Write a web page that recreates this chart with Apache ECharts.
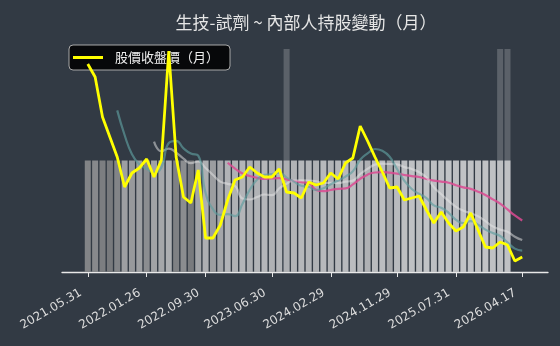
<!DOCTYPE html>
<html><head><meta charset="utf-8">
<script src="https://cdn.jsdelivr.net/npm/echarts@6/dist/echarts.min.js"></script>
<style>html,body{margin:0;padding:0;background:#323a44;}#c{width:560px;height:346px;}</style>
</head><body><div id="c"></div>
<script>
const categories = ['2021.05.31','2021.06.30','2021.07.30','2021.08.31','2021.09.30','2021.10.29','2021.11.30','2021.12.30',
 '2022.01.26','2022.02.25','2022.03.31','2022.04.29','2022.05.31','2022.06.30','2022.07.29','2022.08.31','2022.09.30','2022.10.31','2022.11.30','2022.12.30',
 '2023.01.31','2023.02.24','2023.03.31','2023.04.28','2023.05.31','2023.06.30','2023.07.31','2023.08.31','2023.09.28','2023.10.31','2023.11.30','2023.12.29',
 '2024.01.31','2024.02.29','2024.03.29','2024.04.30','2024.05.31','2024.06.28','2024.07.31','2024.08.30','2024.09.30','2024.10.30','2024.11.29','2024.12.31',
 '2025.01.22','2025.02.27','2025.03.31','2025.04.30','2025.05.30','2025.06.30','2025.07.31','2025.08.29','2025.09.30','2025.10.31','2025.11.28','2025.12.31',
 '2026.01.30','2026.02.26','2026.03.31','2026.04.17'];
const tickLabels = ['2021.05.31','2022.01.26','2022.09.30','2023.06.30','2024.02.29','2024.11.29','2025.07.31','2026.04.17'];
const closePrice = [62.0,58.75,48.75,43.75,38.75,31.25,34.75,36.0,38.25,33.75,
 38.0,65.25,38.75,28.75,27.25,35.5,18.5,18.5,21.75,28.0,
 33.0,33.75,36.25,34.75,33.75,33.75,35.75,30.0,29.75,28.5,
 32.5,31.75,32.25,34.75,33.25,37.25,38.5,46.5,42.75,38.75,
 35.0,31.0,31.25,28.0,28.5,29.0,25.5,22.25,25.0,22.25,
 20.25,21.25,24.75,20.5,16.25,16.0,17.5,16.75,12.75,13.75];
const ma5 = [null,null,null,null,
 50.4,44.25,39.45,36.9,35.8,34.8,36.15,42.25,42.8,40.9,
 39.6,39.1,29.75,25.7,24.3,24.45,23.95,27.0,30.55,33.15,
 34.3,34.45,34.85,33.6,32.6,31.55,31.3,30.5,30.95,31.95,
 32.9,33.85,35.2,38.05,39.65,40.75,40.3,38.8,35.75,32.8,
 30.75,29.55,28.45,26.65,26.05,24.8,23.05,22.2,22.7,21.8,
 20.6,19.75,19.0,17.4,15.85,15.35];
const ma10 = [null,null,null,null,null,null,null,null,null,
 42.6,40.2,40.85,39.85,38.35,37.2,37.63,36.0,34.25,32.6,
 32.03,31.53,28.38,28.13,28.73,29.38,29.2,30.93,32.08,32.88,
 32.93,32.88,32.68,32.28,32.28,32.23,32.58,32.85,34.5,35.8,
 36.83,37.08,37.0,36.9,36.23,35.75,34.93,33.63,31.2,29.43,
 27.78,26.3,25.33,24.68,23.93,22.7,21.4,20.6,20.05,18.83,17.98];
const ma20 = [null,null,null,null,null,null,null,null,null,null,null,null,null,null,null,null,null,null,null,
 37.31,35.86,34.61,33.99,33.54,33.29,33.41,33.46,33.16,32.74,
 32.48,32.2,30.53,30.2,30.5,30.8,30.89,31.89,33.29,34.34,
 34.88,34.98,34.84,34.59,34.25,33.99,33.75,33.24,32.85,32.61,
 32.3,31.69,31.16,30.79,30.08,29.23,28.16,27.11,25.63,24.13,22.88];
const holdingPct = [23.25,24.5,21.75,20.75,23.25,30,28.5,30,25.5,31,
 32,34,22.5,25.5,21,31.5,34,29.5,31.75,35,
 34.5,35.5,34,35,36,34.5,35.5,34,35,36,
 35.5,34.5,36.5,35,36,36.5,37.5,36,34.5,37,
 37.5,32.5,37,38,38.5,37.5,39,38,38.5,39,
 38,39,38.5,38,39,38.5,38,38.5];
const eventMonths = ['2023.08.31','2026.01.30','2026.02.26'];

const PAD = 3;
const padL = Array.from({length: PAD}, (_, i) => 'padL' + i);
const padR = Array.from({length: PAD}, (_, i) => 'padR' + i);
const xData = padL.concat(categories, padR);
const fit = arr => { const out = new Array(PAD).fill(null).concat(arr); while (out.length < xData.length) out.push(null); return out; };
const grayOf = pct => { const g = Math.round(120 + (pct - 20) * 4); return `rgb(${g-3},${g-1},${g+2})`; };
const holdingBars = holdingPct.map(p => ({ value: 1, itemStyle: { color: grayOf(p) } }));
const eventBars = categories.map(c => eventMonths.includes(c) ? 2 : null);
const showTick = (i, v) => tickLabels.includes(v);

const chart = echarts.init(document.getElementById('c'), null, {renderer: 'canvas'});
chart.setOption({
  backgroundColor: '#323a44',
  animation: false,
  title: {
    text: '生技-試劑 ~ 內部人持股變動（月）',
    left: 301, top: 9, textAlign: 'center',
    textStyle: { color: '#e6e6e6', fontSize: 17, fontWeight: 'normal', fontFamily: 'Noto Sans CJK TC' }
  },
  legend: {
    data: [{ name: '股價收盤價（月）', icon: 'rect' }],
    left: 69, top: 45,
    itemWidth: 30, itemHeight: 3,
    padding: [6, 11, 6, 4],
    backgroundColor: 'rgba(0,0,0,0.85)',
    borderColor: '#a8a8a8', borderWidth: 1, borderRadius: 4,
    textStyle: { color: '#eeeeee', fontSize: 13, fontFamily: 'Noto Sans CJK TC', padding: [0, 0, 0, 7] }
  },
  grid: { left: 62, right: 12, top: 49, bottom: 74, containLabel: false },
  xAxis: {
    type: 'category', data: xData, boundaryGap: true,
    axisLine: { lineStyle: { color: '#e8e8e8', width: 1.3 } },
    axisTick: { show: true, alignWithLabel: true, interval: showTick, length: 5, lineStyle: { color: '#e8e8e8' } },
    axisLabel: { interval: showTick, rotate: 30, color: '#dcdcdc', fontSize: 12, fontFamily: 'DejaVu Sans', margin: 16, padding: [0, 8, 0, 0] },
    splitLine: { show: false }
  },
  yAxis: [
    { type: 'value', min: 10, max: 65.75, show: false },
    { type: 'value', min: 0, max: 2, show: false }
  ],
  series: [
    { name: 'event', type: 'bar', yAxisIndex: 1, data: fit(eventBars), barWidth: 6, barGap: '-100%',
      itemStyle: { color: 'rgba(255,255,255,0.2)' }, silent: true, z: 1 },
    { name: 'holding', type: 'bar', yAxisIndex: 1, data: fit(holdingBars), barWidth: 6, barGap: '-100%', silent: true, z: 1 },
    { name: 'MA20', type: 'line', data: fit(ma20), smooth: true, symbol: 'none', z: 3,
      lineStyle: { color: '#dc4a92', width: 2.2, opacity: 0.85 } },
    { name: 'MA10', type: 'line', data: fit(ma10), smooth: true, symbol: 'none', z: 3,
      lineStyle: { color: '#e8e8e8', width: 2.2, opacity: 0.5 } },
    { name: 'MA5', type: 'line', data: fit(ma5), smooth: true, symbol: 'none', z: 3,
      lineStyle: { color: '#5f9ea0', width: 2.2, opacity: 0.65 } },
    { name: '股價收盤價（月）', type: 'line', data: fit(closePrice), symbol: 'none', z: 5,
      itemStyle: { color: '#ffff00' }, lineStyle: { color: '#ffff00', width: 2.8 } }
  ]
});
</script></body></html>
